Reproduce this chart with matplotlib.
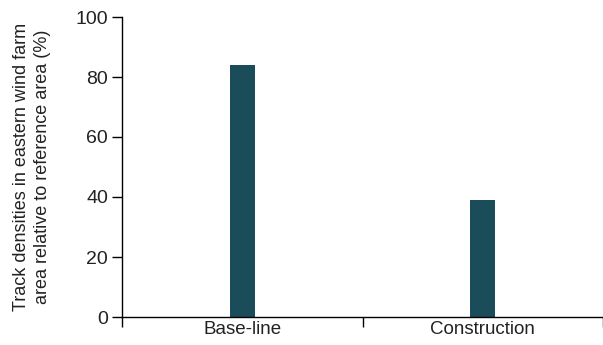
import matplotlib
matplotlib.use("Agg")
import matplotlib.pyplot as plt

categories = ["Base-line", "Construction"]
values = [84, 39]
yticks = [0, 20, 40, 60, 80, 100]

plt.rcParams['font.family'] = ['Liberation Sans', 'DejaVu Sans']

fig = plt.figure(figsize=(6.03, 3.45), dpi=100)
ax = fig.add_axes([122/603, 1-317/345, 1-122/603, 300/345])

pos = [i + 0.5 for i in range(len(categories))]
ax.bar(pos, values, width=0.104, color='#1a4d59', edgecolor='none')

ax.set_xlim(0, len(categories))
ax.set_ylim(0, 100)
ax.set_yticks(yticks)
ax.set_xticks(pos)
ax.set_xticklabels(categories)
ax.set_xticks(range(len(categories) + 1), minor=True)
ax.tick_params(axis='x', which='major', length=0, pad=3, labelsize=13.5, labelcolor='#222222')
ax.tick_params(axis='x', which='minor', length=7, width=1.0, direction='out')
ax.tick_params(axis='y', length=7, width=1.0, direction='out', labelsize=14, pad=3, labelcolor='#222222')

for s in ['top', 'right']:
    ax.spines[s].set_visible(False)
for s in ['left', 'bottom']:
    ax.spines[s].set_linewidth(1.0)

ax.set_ylabel("Track densities in eastern wind farm\narea relative to reference area (%)",
              fontsize=13, color='#222222', linespacing=1.3)
ax.yaxis.set_label_coords(-0.148, 0.5)

fig.savefig("out.png", dpi=100)
